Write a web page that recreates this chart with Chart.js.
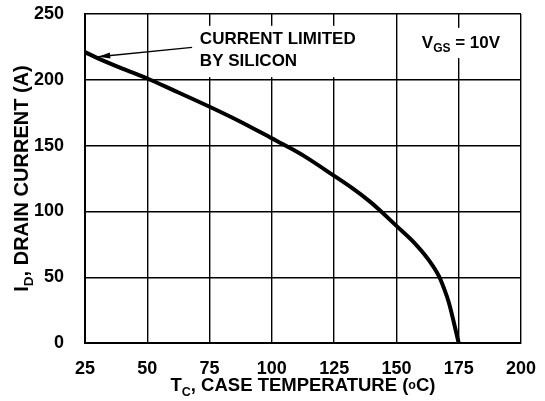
<!DOCTYPE html>
<html>
<head>
<meta charset="utf-8">
<script src="https://cdn.jsdelivr.net/npm/chart.js@4.4.0/dist/chart.umd.min.js"></script>
<style>
  html, body { margin: 0; padding: 0; background: #fff; }
  #wrap { width: 545px; height: 401px; }
</style>
</head>
<body>
<div id="wrap"><canvas id="drainChart"></canvas></div>
<script>
// Drain current vs case temperature
const tempC  = [25, 30, 40, 50, 60, 75, 87, 100, 106, 113, 125, 132, 139, 143, 150, 157, 163, 167, 169, 171, 175];
const drainA = [221, 216.5, 208.5, 201, 192.5, 179.5, 168.5, 155.5, 149.5, 142, 127, 118, 108, 101.5, 89, 76.5, 63, 51, 42, 31, 0];
const xTicks = [25, 50, 75, 100, 125, 150, 175, 200];
const yTicks = [0, 50, 100, 150, 200, 250];

const FONT = '"Liberation Sans", Arial, sans-serif';

// draws a row of text pieces (for subscripts), centred on cx
function drawRich(ctx, parts, cx, cy) {
    let total = 0;
    parts.forEach(p => {
        ctx.font = 'bold ' + p.size + 'px ' + FONT;
        p.w = ctx.measureText(p.t).width;
        total += p.w;
    });
    let px = cx - total / 2;
    ctx.textBaseline = 'alphabetic';
    ctx.textAlign = 'left';
    parts.forEach(p => {
        ctx.font = 'bold ' + p.size + 'px ' + FONT;
        ctx.fillText(p.t, px, cy + (p.dy || 0));
        px += p.w;
    });
}

const notes = {
    id: 'notes',
    beforeDatasetsDraw(chart) {
        const {ctx, scales: {x, y}} = chart;
        ctx.save();
        ctx.fillStyle = '#fff';
        // label backgrounds hide the grid
        let l = x.getPixelForValue(69), r = x.getPixelForValue(145);
        let t = y.getPixelForValue(241), b = y.getPixelForValue(202);
        ctx.fillRect(l, t, r - l, b - t);
        l = x.getPixelForValue(158); r = x.getPixelForValue(193);
        t = y.getPixelForValue(239.5); b = y.getPixelForValue(216.5);
        ctx.fillRect(l, t, r - l, b - t);
        ctx.restore();
    },
    afterDraw(chart) {
        const {ctx, scales: {x, y}, chartArea} = chart;
        ctx.save();
        ctx.fillStyle = '#000';
        ctx.strokeStyle = '#000';

        ctx.font = 'bold 17px ' + FONT;
        ctx.textAlign = 'left';
        ctx.textBaseline = 'middle';
        ctx.fillText('CURRENT LIMITED', x.getPixelForValue(71.1), y.getPixelForValue(230.8));
        ctx.fillText('BY SILICON', x.getPixelForValue(71.1), y.getPixelForValue(213.8));

        // arrow to the curve
        const x0 = x.getPixelForValue(68), y0 = y.getPixelForValue(224.7);
        const x1 = x.getPixelForValue(30.3), y1 = y.getPixelForValue(217.5);
        ctx.lineWidth = 1.3;
        ctx.beginPath();
        ctx.moveTo(x0, y0);
        ctx.lineTo(x1, y1);
        ctx.stroke();
        const ang = Math.atan2(y1 - y0, x1 - x0);
        ctx.beginPath();
        ctx.moveTo(x1, y1);
        ctx.lineTo(x1 - 12 * Math.cos(ang) + 3 * Math.sin(ang), y1 - 12 * Math.sin(ang) - 3 * Math.cos(ang));
        ctx.lineTo(x1 - 12 * Math.cos(ang) - 3 * Math.sin(ang), y1 - 12 * Math.sin(ang) + 3 * Math.cos(ang));
        ctx.closePath();
        ctx.fill();

        drawRich(ctx, [
            {t: 'V', size: 17},
            {t: 'GS', size: 12, dy: 4},
            {t: ' = 10V', size: 17}
        ], x.getPixelForValue(175.9), y.getPixelForValue(229) + 6.5);

        // axis titles
        drawRich(ctx, [
            {t: 'T', size: 18.5},
            {t: 'C', size: 12.5, dy: 5},
            {t: ', CASE TEMPERATURE (', size: 18.5},
            {t: 'o', size: 12.5, dy: -2},
            {t: 'C)', size: 18.5}
        ], (chartArea.left + chartArea.right) / 2, 391);

        ctx.translate(28, (chartArea.top + chartArea.bottom) / 2);
        ctx.rotate(-Math.PI / 2);
        drawRich(ctx, [
            {t: 'I', size: 20},
            {t: 'D', size: 13.5, dy: 5},
            {t: ', DRAIN CURRENT (A)', size: 20}
        ], 0, 0);
        ctx.restore();
    }
};

const drainCtx = document.getElementById('drainChart').getContext('2d');
new Chart(drainCtx, {
    type: 'line',
    data: {
        datasets: [{
            data: tempC.map((t, i) => ({x: t, y: drainA[i]})),
            borderColor: '#000',
            borderWidth: 4,
            pointRadius: 0,
            tension: 0.3,
            cubicInterpolationMode: 'monotone',
            fill: false
        }]
    },
    options: {
        responsive: true,
        maintainAspectRatio: false,
        animation: false,
        layout: { padding: { left: 0, top: 14, right: 24, bottom: 0 } },
        plugins: {
            legend: { display: false },
            tooltip: { enabled: false }
        },
        scales: {
            x: {
                type: 'linear',
                min: 25,
                max: 200,
                afterBuildTicks: s => { s.ticks = xTicks.map(v => ({value: v})); },
                afterFit: s => { s.height = 58; s.paddingLeft = 0; s.paddingRight = 0; },
                grid: { color: '#000', lineWidth: 1.4, drawTicks: false },
                border: { color: '#000', width: 2 },
                ticks: {
                    padding: 15,
                    color: '#000',
                    font: { family: FONT, size: 18, weight: 'bold' }
                }
            },
            y: {
                min: 0,
                max: 250,
                afterBuildTicks: s => { s.ticks = yTicks.map(v => ({value: v})); },
                afterFit: s => { s.width = 85; s.paddingTop = 0; s.paddingBottom = 0; },
                grid: { color: '#000', lineWidth: 1.4, drawTicks: false },
                border: { color: '#000', width: 2 },
                ticks: {
                    padding: 21,
                    color: '#000',
                    font: { family: FONT, size: 18, weight: 'bold' }
                }
            }
        }
    },
    plugins: [notes]
});
</script>
</body>
</html>
